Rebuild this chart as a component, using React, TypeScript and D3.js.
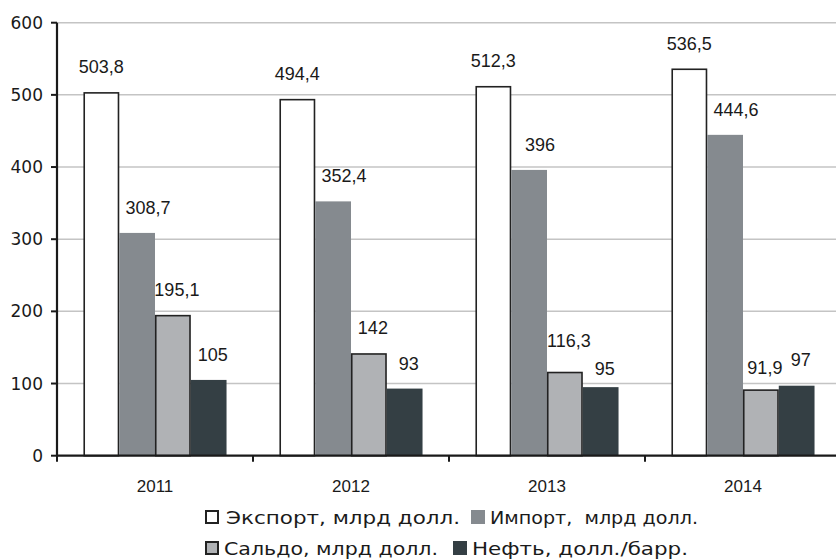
import React from "react";
import * as d3 from "d3";

const years = ["2011", "2012", "2013", "2014"];
const exportVals = [503.8, 494.4, 512.3, 536.5];
const importVals = [308.7, 352.4, 396, 444.6];
const saldoVals = [195.1, 142, 116.3, 91.9];
const oilVals = [105, 93, 95, 97];
const exportLabels = ["503,8", "494,4", "512,3", "536,5"];
const importLabels = ["308,7", "352,4", "396", "444,6"];
const saldoLabels = ["195,1", "142", "116,3", "91,9"];
const oilLabels = ["105", "93", "95", "97"];
const yTicks = [0, 100, 200, 300, 400, 500, 600];
const seriesNames = [
  "Экспорт, млрд долл.",
  "Импорт,  млрд долл.",
  "Сальдо, млрд долл.",
  "Нефть, долл./барр.",
];

const W = 836;
const H = 560;

// small per-label vertical nudges (Excel-style manual label placement)
const labelNudge: Record<string, number> = { "sal-2013": -6, "oil-2013": 7, "sal-2014": 4, "oil-2014": -1 };

export default function App() {
  const series = [
    { key: "exp", values: exportVals, labels: exportLabels, fill: "#ffffff", stroke: "#222", dx: 0 },
    { key: "imp", values: importVals, labels: importLabels, fill: "#858a8f", stroke: "none", dx: 11 },
    { key: "sal", values: saldoVals, labels: saldoLabels, fill: "#b0b2b5", stroke: "#222", dx: 4 },
    { key: "oil", values: oilVals, labels: oilLabels, fill: "#343f44", stroke: "none", dx: 4 },
  ];
  const x0 = d3.scaleBand().domain(years).range([57, 841]).padding(0);
  const x1 = d3
    .scaleBand()
    .domain(series.map((s) => s.key))
    .range([0, x0.bandwidth()])
    .paddingInner(0)
    .paddingOuter(0.74);
  const y = d3.scaleLinear().domain([0, 600]).range([455.7, 22.7]);

  const legend = [
    { box: [206, 511], fill: "#ffffff", stroke: "#222", size: 12, tx: 226, ty: 524, len: 234, name: seriesNames[0] },
    { box: [471, 510], fill: "#858a8f", stroke: "none", size: 14, tx: 490, ty: 524, len: 208, name: seriesNames[1] },
    { box: [206, 542], fill: "#b0b2b5", stroke: "#222", size: 12, tx: 224, ty: 555, len: 214, name: seriesNames[2] },
    { box: [453, 541], fill: "#343f44", stroke: "none", size: 14, tx: 472, ty: 555, len: 216, name: seriesNames[3] },
  ];

  return (
    <svg width={W} height={H} style={{ position: "absolute", left: 0, top: 0, background: "#fff" }}>
      {yTicks.filter((t) => t > 0).map((t) => (
        <line key={"g" + t} x1={57} x2={W} y1={y(t)} y2={y(t)} stroke="#c4c4c4" strokeWidth={1.5} />
      ))}
      {years.map((yr, i) => (
        <g key={yr} transform={`translate(${x0(yr)},0)`}>
          {series.map((s) => {
            const v = s.values[i];
            const bx = x1(s.key)!;
            const bw = x1.bandwidth();
            const inset = s.stroke !== "none" ? 0.75 : 0;
            return (
              <rect
                key={s.key}
                x={bx + inset}
                y={y(v) + inset}
                width={bw - inset * 2}
                height={y(0) - y(v) - inset}
                fill={s.fill}
                stroke={s.stroke}
                strokeWidth={s.stroke !== "none" ? 1.6 : 0}
              />
            );
          })}
        </g>
      ))}
      {years.map((yr, i) =>
        series.map((s) => (
          <text
            key={yr + s.key}
            x={x0(yr)! + x1(s.key)! + x1.bandwidth() / 2 + s.dx}
            y={y(s.values[i]) - 19 + (labelNudge[`${s.key}-${yr}`] || 0)}
            textAnchor="middle"
            fontFamily="Liberation Sans, Arial, sans-serif"
            fontSize={18}
            fill="#1a1a1a"
          >
            {s.labels[i]}
          </text>
        ))
      )}
      <line x1={57} x2={57} y1={y(600)} y2={y(0) + 1} stroke="#1a1a1a" strokeWidth={2.2} />
      {yTicks.map((t) => (
        <g key={"t" + t}>
          <line x1={51} x2={57} y1={y(t)} y2={y(t)} stroke="#1a1a1a" strokeWidth={2} />
          <text
            x={43}
            y={y(t) + 6}
            textAnchor="end"
            fontFamily="DejaVu Sans, sans-serif"
            fontSize={17}
            fill="#1a1a1a"
          >
            {t}
          </text>
        </g>
      ))}
      <line x1={56} x2={W} y1={y(0)} y2={y(0)} stroke="#1a1a1a" strokeWidth={2.2} />
      {years.map((yr) => (
        <line key={"xt" + yr} x1={x0(yr)!} x2={x0(yr)!} y1={y(0)} y2={y(0) + 6} stroke="#1a1a1a" strokeWidth={2} />
      ))}
      {years.map((yr) => (
        <text
          key={"xl" + yr}
          x={x0(yr)! + x0.bandwidth() / 2}
          y={492}
          textAnchor="middle"
          fontFamily="Liberation Sans, Arial, sans-serif"
          fontSize={17}
          fill="#1a1a1a"
        >
          {yr}
        </text>
      ))}
      {legend.map((l) => (
        <g key={l.name}>
          <rect
            x={l.box[0]}
            y={l.box[1]}
            width={l.size}
            height={l.size}
            fill={l.fill}
            stroke={l.stroke}
            strokeWidth={l.stroke !== "none" ? 2 : 0}
          />
          <text
            x={l.tx}
            y={l.ty}
            fontFamily="DejaVu Sans, sans-serif"
            fontSize={18}
            fill="#1a1a1a"
            textLength={l.len}
            lengthAdjust="spacingAndGlyphs"
            style={{ whiteSpace: "pre" }}
          >
            {l.name}
          </text>
        </g>
      ))}
    </svg>
  );
}
